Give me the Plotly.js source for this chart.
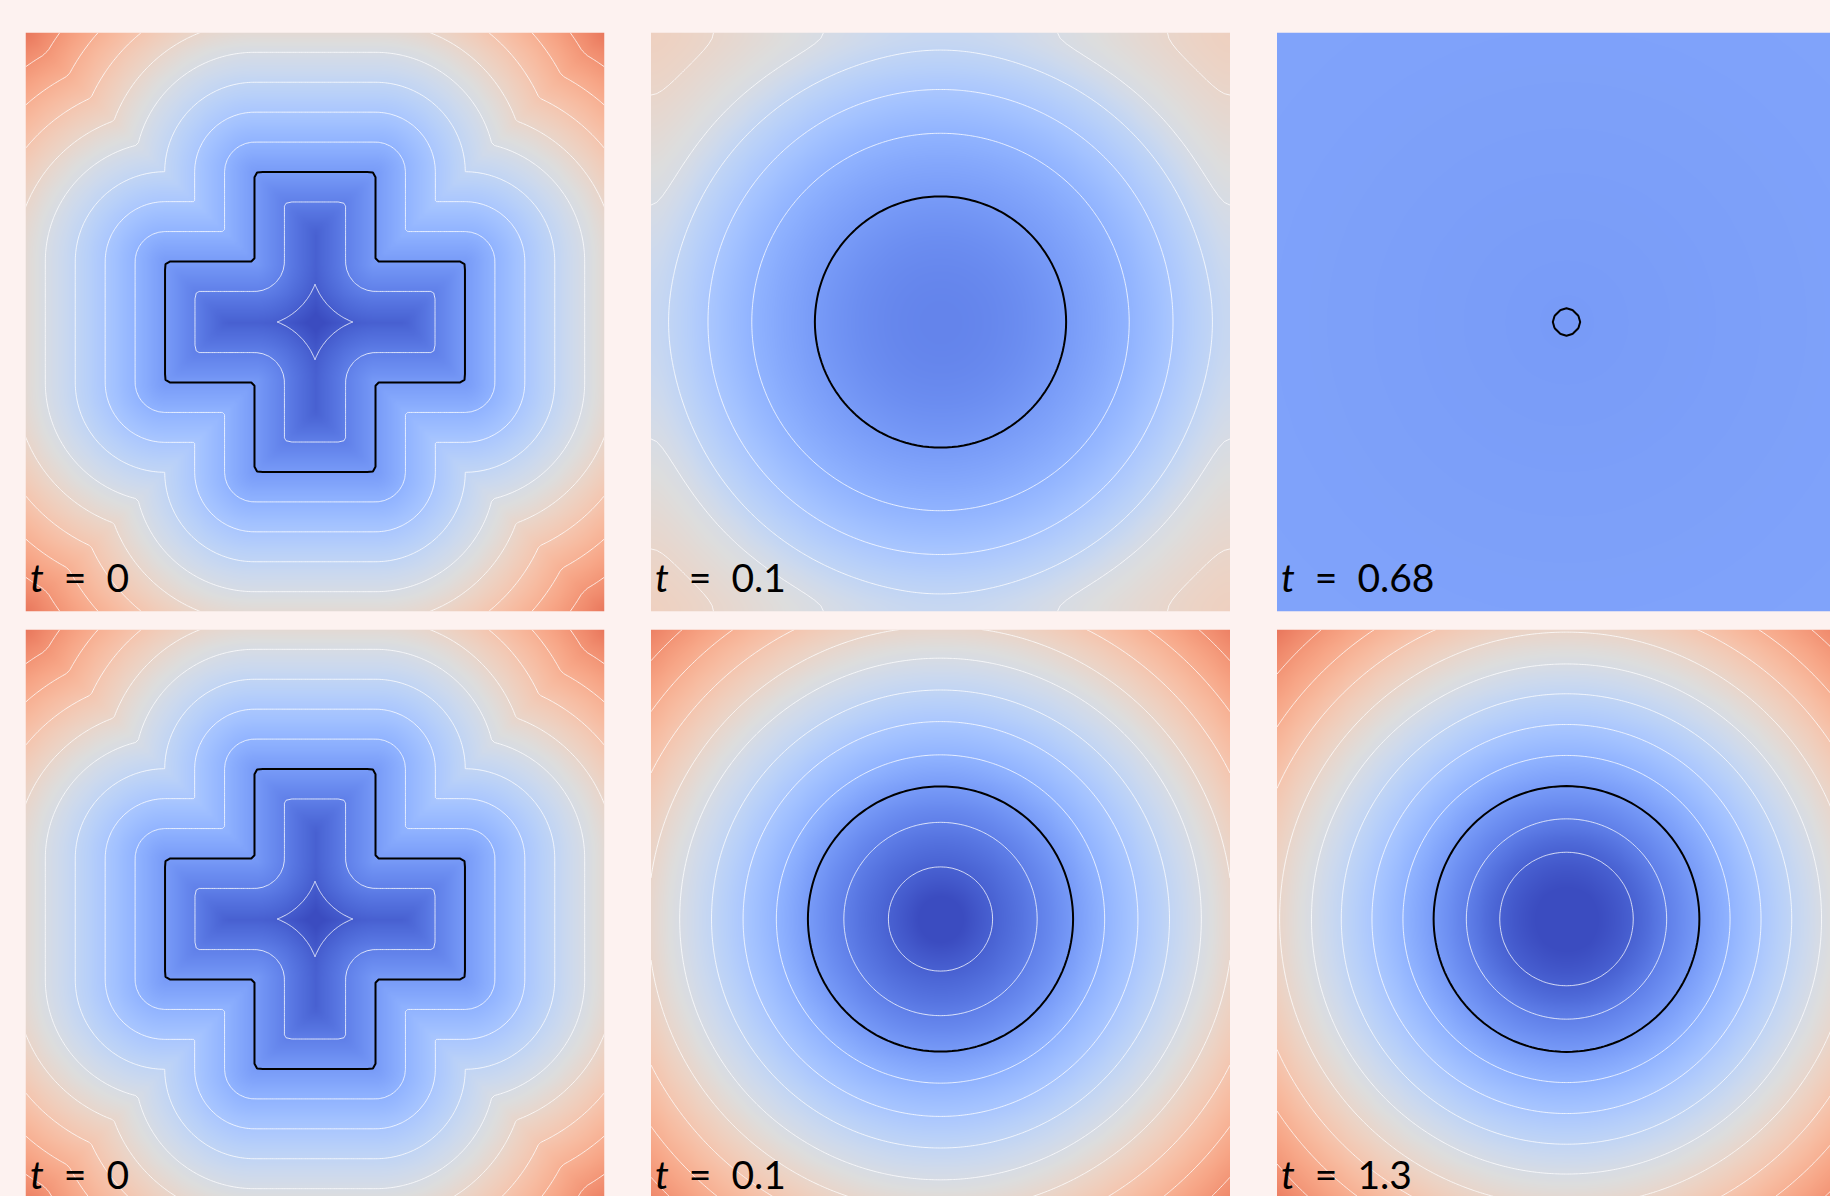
<!DOCTYPE html>
<html>
<head>
<meta charset="utf-8">
<script src="https://cdn.plot.ly/plotly-3.0.1.min.js"></script>
<style>
  html, body { margin: 0; padding: 0; overflow: hidden; background: #fdf2f0; }
  #fig { width: 1900px; height: 1260px; }
</style>
</head>
<body>
<div id="fig"></div>
<script>
// ---- panel captions (time of each snapshot) ----
const timeLabels = ['0', '0.1', '0.68', '0', '0.1', '1.3'];

// ---- initial shape: a plus-shaped region, in panel units [-1, 1] ----
const crossHalfWidth = 0.209;
const crossHalfLength = 0.518;
// distance between neighbouring contour levels (panel units)
const levelStep = 0.1034;
// contour levels (in level units) drawn in white on the initial field
const crossLevels = [-2.16, -1, 1, 2, 3, 4, 5, 6, 7, 8];

// ---- t = 0.1, no reinitialisation: radial profile (softened radius -> level) ----
const top01Radius = [0, 0.1, 0.2, 0.3, 0.434, 0.652, 0.803, 0.93, 1.04, 1.238, 1.36];
const top01Value  = [-0.84, -0.80, -0.67, -0.45, 0, 1, 2, 3, 4, 5, 5.4];
const top01Levels = [1, 2, 3, 4, 5];

// ---- t = 0.68, no reinitialisation: almost flat field ----
const top068Radius = [0, 0.046, 0.2, 0.5, 0.9, 1.42];
const top068Value  = [-0.04, 0, 0.06, 0.14, 0.24, 0.34];
const top068Levels = [];

// ---- t = 0.1, with reinitialisation ----
const bottom01Radius = [0, 0.18, 0.334, 0.458, 0.567, 0.682, 0.791, 0.901, 1.01, 1.12, 1.23, 1.34, 1.42];
const bottom01Value  = [-2.9, -2, -1, 0, 1, 2, 3, 4, 5, 6, 7, 8, 8.7];
const bottom01Levels = [-2, -1, 1, 2, 3, 4, 5, 6, 7, 8];

// ---- t = 1.3, with reinitialisation ----
const bottom13Radius = [0, 0.231, 0.346, 0.459, 0.565, 0.672, 0.778, 0.881, 0.991, 1.097, 1.20, 1.31, 1.42];
const bottom13Value  = [-2.9, -2, -1, 0, 1, 2, 3, 4, 5, 6, 7, 8, 9];
const bottom13Levels = [-2, -1, 1, 2, 3, 4, 5, 6, 7, 8];

// shared colour range (level units)
const colorMin = -2.66;
const colorMax = 11.34;

// cool-warm diverging colour map
const coolwarmRGB = [
  [59,76,192],[68,90,204],[77,104,215],[87,117,225],[98,130,234],[108,142,241],
  [119,154,247],[130,165,251],[141,176,254],[152,185,255],[163,194,255],[174,201,253],
  [184,208,249],[194,213,244],[204,217,238],[213,219,230],[221,221,221],[229,216,209],
  [236,211,197],[241,204,185],[245,196,173],[247,187,160],[247,177,148],[247,166,135],
  [244,154,123],[241,141,111],[236,127,99],[229,112,88],[222,96,77],[213,80,66],
  [203,62,56],[192,40,47],[180,4,38]
];
const coolwarm = coolwarmRGB.map((c, i) =>
  [i / (coolwarmRGB.length - 1), 'rgb(' + c.join(',') + ')']);

// ---- grid ----
const N = 101;
const grid = Array.from({length: N}, (_, i) => -1 + 2 * i / (N - 1));

// ---- signed distance to the plus shape, in level units ----
const A = crossHalfWidth, L = crossHalfLength;
const crossPoly = [[-A,-L],[A,-L],[A,-A],[L,-A],[L,A],[A,A],[A,L],[-A,L],[-A,A],[-L,A],[-L,-A],[-A,-A]];
function segDist(px, py, ax, ay, bx, by) {
  const dx = bx - ax, dy = by - ay;
  let t = ((px - ax) * dx + (py - ay) * dy) / (dx * dx + dy * dy);
  t = Math.max(0, Math.min(1, t));
  const qx = ax + t * dx - px, qy = ay + t * dy - py;
  return Math.sqrt(qx * qx + qy * qy);
}
function crossLevel(x, y) {
  let d = Infinity;
  for (let i = 0; i < crossPoly.length; i++) {
    const p = crossPoly[i], q = crossPoly[(i + 1) % crossPoly.length];
    d = Math.min(d, segDist(x, y, p[0], p[1], q[0], q[1]));
  }
  const inside = (Math.abs(x) <= A && Math.abs(y) <= L) || (Math.abs(y) <= A && Math.abs(x) <= L);
  return (inside ? -d : d) / levelStep;
}

// ---- monotone cubic profile through (radius, value) nodes, flat at r = 0 ----
function makeProfile(xs, ys) {
  const n = xs.length, d = [], m = [];
  for (let i = 0; i < n - 1; i++) d.push((ys[i + 1] - ys[i]) / (xs[i + 1] - xs[i]));
  m[0] = 0; m[n - 1] = d[n - 2];
  for (let i = 1; i < n - 1; i++) m[i] = (d[i - 1] * d[i] <= 0) ? 0 : (d[i - 1] + d[i]) / 2;
  for (let i = 0; i < n - 1; i++) {
    if (d[i] === 0) { m[i] = 0; m[i + 1] = 0; continue; }
    const a = m[i] / d[i], b = m[i + 1] / d[i], s = a * a + b * b;
    if (s > 9) { const t = 3 / Math.sqrt(s); m[i] = t * a * d[i]; m[i + 1] = t * b * d[i]; }
  }
  return function (r) {
    if (r >= xs[n - 1]) return ys[n - 1] + m[n - 1] * (r - xs[n - 1]);
    let k = 0;
    while (k < n - 2 && r > xs[k + 1]) k++;
    const h = xs[k + 1] - xs[k], t = (r - xs[k]) / h;
    const t2 = t * t, t3 = t2 * t;
    return (2*t3 - 3*t2 + 1) * ys[k] + (t3 - 2*t2 + t) * h * m[k] +
           (-2*t3 + 3*t2) * ys[k + 1] + (t3 - t2) * h * m[k + 1];
  };
}

// radius softened near the walls so level lines meet the border squarely
const warpPower = 24;
function soften(u) { return u - Math.sign(u) * Math.pow(Math.abs(u), warpPower) / warpPower; }

const top01 = makeProfile(top01Radius, top01Value);
const top068 = makeProfile(top068Radius, top068Value);
const bottom01 = makeProfile(bottom01Radius, bottom01Value);
const bottom13 = makeProfile(bottom13Radius, bottom13Value);

const panels = [
  {label: timeLabels[0], field: crossLevel, levels: crossLevels},
  {label: timeLabels[1], field: (x, y) => top01(Math.hypot(soften(x), soften(y))), levels: top01Levels},
  {label: timeLabels[2], field: (x, y) => top068(Math.hypot(x, y)), levels: top068Levels},
  {label: timeLabels[3], field: crossLevel, levels: crossLevels},
  {label: timeLabels[4], field: (x, y) => bottom01(Math.hypot(x, y)), levels: bottom01Levels},
  {label: timeLabels[5], field: (x, y) => bottom13(Math.hypot(x, y)), levels: bottom13Levels}
];

// ---- figure geometry (pixels) ----
const W = 1900, H = 1260;
const colLeft = [25.5, 651, 1277];
const rowTop = [32.5, 629.5];
const side = 579;

const traces = [];
const annotations = [];
const layout = {
  width: W, height: H,
  margin: {l: 0, r: 0, t: 0, b: 0},
  paper_bgcolor: '#fdf2f0', plot_bgcolor: '#fdf2f0',
  showlegend: false
};

panels.forEach((p, idx) => {
  const k = idx + 1;
  const xa = k === 1 ? 'x' : 'x' + k;
  const ya = k === 1 ? 'y' : 'y' + k;
  const col = idx % 3, row = Math.floor(idx / 3);
  const x0 = colLeft[col], y0 = rowTop[row];
  layout[k === 1 ? 'xaxis' : 'xaxis' + k] = {
    domain: [x0 / W, (x0 + side) / W], range: [-1, 1], visible: false, fixedrange: true
  };
  layout[k === 1 ? 'yaxis' : 'yaxis' + k] = {
    domain: [1 - (y0 + side) / H, 1 - y0 / H], range: [-1, 1], visible: false, fixedrange: true
  };

  const z = grid.map(y => grid.map(x => p.field(x, y)));

  traces.push({
    type: 'heatmap', x: grid, y: grid, z: z, xaxis: xa, yaxis: ya,
    colorscale: coolwarm, zmin: colorMin, zmax: colorMax, zsmooth: 'best',
    showscale: false, hoverinfo: 'skip'
  });

  const addLevel = (lv, color, width) => traces.push({
    type: 'contour', x: grid, y: grid, z: z, xaxis: xa, yaxis: ya,
    autocontour: false,
    contours: {start: lv, end: lv, size: 1, coloring: 'none', showlabels: false},
    line: {color: color, width: width, smoothing: 0},
    showscale: false, hoverinfo: 'skip'
  });
  p.levels.forEach(lv => addLevel(lv, 'rgba(255,255,255,0.78)', 1));
  addLevel(0, '#000000', 2);

  annotations.push({
    xref: xa, yref: ya, x: -1, y: -1, xanchor: 'left', yanchor: 'bottom',
    xshift: 2, yshift: 10, showarrow: false,
    text: '<i>t</i>\u00a0\u00a0=\u00a0\u00a0' + p.label,
    font: {family: 'Lato, "Noto Sans", sans-serif', size: 39, color: '#000000'}
  });
});
layout.annotations = annotations;

Plotly.newPlot('fig', traces, layout, {staticPlot: true, displayModeBar: false});
</script>
</body>
</html>
